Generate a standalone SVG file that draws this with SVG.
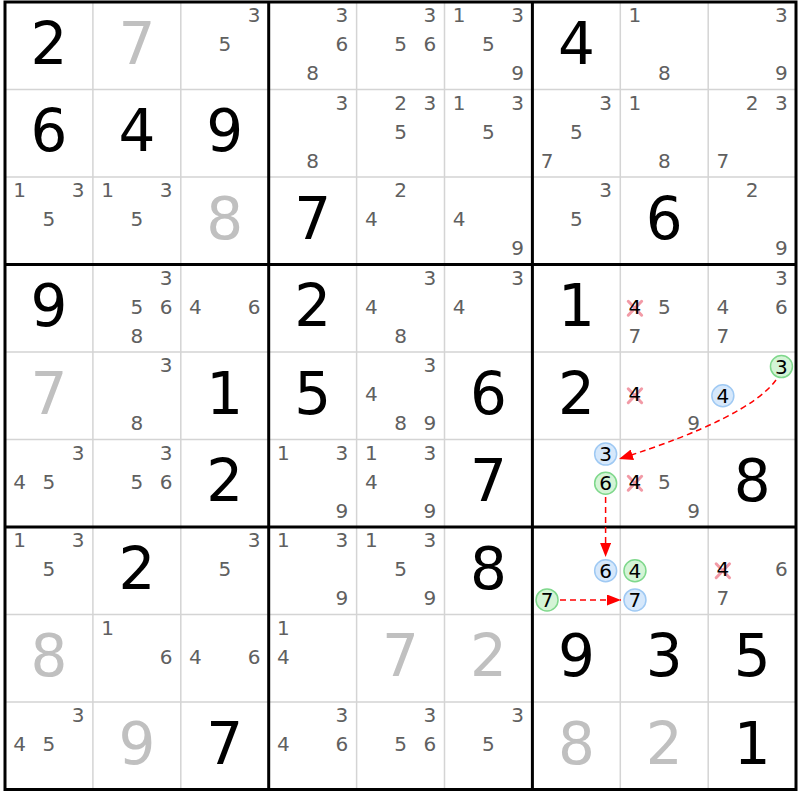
<svg xmlns="http://www.w3.org/2000/svg" width="800" height="800" viewBox="0 0 800 800">
<style>
text{font-family:"DejaVu Sans","Liberation Sans",sans-serif;text-anchor:middle}
.g{font-size:58px;fill:#000}
.s{font-size:58px;fill:#c0c0c0}
.c{font-size:20px;fill:#606060}
.k{font-size:20px;fill:#000}
.thin{stroke:#d4d4d4;stroke-width:1.5}
.thick{stroke:#000;stroke-width:3}
.cb{fill:#d6e8fb;stroke:#9fc9f3;stroke-width:1.5}
.cg{fill:#d4f4d6;stroke:#7fd88c;stroke-width:1.5}
.x{stroke:#f29aa6;stroke-width:3;stroke-linecap:round}
.arr{fill:none;stroke:#f00;stroke-width:1.5;stroke-dasharray:6 4;marker-end:url(#ah)}
</style>
<defs>
<marker id="ah" markerUnits="userSpaceOnUse" markerWidth="14" markerHeight="11" refX="14" refY="5.5" orient="auto">
<path d="M0,0 L14,5.5 L0,11 z" fill="#f00"/>
</marker>
</defs>
<rect width="800" height="800" fill="#fff"/>
<g id="grid">
<path class="thin" d="M92.9,2V789.5M180.8,2V789.5M356.6,2V789.5M444.5,2V789.5M620.3,2V789.5M708.2,2V789.5M5,89.5H796M5,177H796M5,352H796M5,439.5H796M5,614.5H796M5,702H796"/>
<path class="thick" fill="none" d="M268.7,2V789.5M532.4,2V789.5M5,264.5H796M5,527H796"/>
<rect class="thick" fill="none" x="5" y="2" width="791" height="787.5"/>
</g>
<!-- Row 0 -->
<g id="r0c0" transform="translate(48.95,45.75)"><text class="g" y="18">2</text></g>
<g id="r0c1" transform="translate(136.85,45.75)"><text class="s" y="18">7</text></g>
<g id="r0c2" transform="translate(224.75,45.75)"><text class="c" x="29.3" y="-23.7">3</text><text class="c" y="5.5">5</text></g>
<g id="r0c3" transform="translate(312.65,45.75)"><text class="c" x="29.3" y="-23.7">3</text><text class="c" x="29.3" y="5.5">6</text><text class="c" y="34.7">8</text></g>
<g id="r0c4" transform="translate(400.55,45.75)"><text class="c" x="29.3" y="-23.7">3</text><text class="c" y="5.5">5</text><text class="c" x="29.3" y="5.5">6</text></g>
<g id="r0c5" transform="translate(488.45,45.75)"><text class="c" x="-29.3" y="-23.7">1</text><text class="c" x="29.3" y="-23.7">3</text><text class="c" y="5.5">5</text><text class="c" x="29.3" y="34.7">9</text></g>
<g id="r0c6" transform="translate(576.35,45.75)"><text class="g" y="18">4</text></g>
<g id="r0c7" transform="translate(664.25,45.75)"><text class="c" x="-29.3" y="-23.7">1</text><text class="c" y="34.7">8</text></g>
<g id="r0c8" transform="translate(752.15,45.75)"><text class="c" x="29.3" y="-23.7">3</text><text class="c" x="29.3" y="34.7">9</text></g>
<!-- Row 1 -->
<g id="r1c0" transform="translate(48.95,133.25)"><text class="g" y="18">6</text></g>
<g id="r1c1" transform="translate(136.85,133.25)"><text class="g" y="18">4</text></g>
<g id="r1c2" transform="translate(224.75,133.25)"><text class="g" y="18">9</text></g>
<g id="r1c3" transform="translate(312.65,133.25)"><text class="c" x="29.3" y="-23.7">3</text><text class="c" y="34.7">8</text></g>
<g id="r1c4" transform="translate(400.55,133.25)"><text class="c" y="-23.7">2</text><text class="c" x="29.3" y="-23.7">3</text><text class="c" y="5.5">5</text></g>
<g id="r1c5" transform="translate(488.45,133.25)"><text class="c" x="-29.3" y="-23.7">1</text><text class="c" x="29.3" y="-23.7">3</text><text class="c" y="5.5">5</text></g>
<g id="r1c6" transform="translate(576.35,133.25)"><text class="c" x="29.3" y="-23.7">3</text><text class="c" y="5.5">5</text><text class="c" x="-29.3" y="34.7">7</text></g>
<g id="r1c7" transform="translate(664.25,133.25)"><text class="c" x="-29.3" y="-23.7">1</text><text class="c" y="34.7">8</text></g>
<g id="r1c8" transform="translate(752.15,133.25)"><text class="c" y="-23.7">2</text><text class="c" x="29.3" y="-23.7">3</text><text class="c" x="-29.3" y="34.7">7</text></g>
<!-- Row 2 -->
<g id="r2c0" transform="translate(48.95,220.75)"><text class="c" x="-29.3" y="-23.7">1</text><text class="c" x="29.3" y="-23.7">3</text><text class="c" y="5.5">5</text></g>
<g id="r2c1" transform="translate(136.85,220.75)"><text class="c" x="-29.3" y="-23.7">1</text><text class="c" x="29.3" y="-23.7">3</text><text class="c" y="5.5">5</text></g>
<g id="r2c2" transform="translate(224.75,220.75)"><text class="s" y="18">8</text></g>
<g id="r2c3" transform="translate(312.65,220.75)"><text class="g" y="18">7</text></g>
<g id="r2c4" transform="translate(400.55,220.75)"><text class="c" y="-23.7">2</text><text class="c" x="-29.3" y="5.5">4</text></g>
<g id="r2c5" transform="translate(488.45,220.75)"><text class="c" x="-29.3" y="5.5">4</text><text class="c" x="29.3" y="34.7">9</text></g>
<g id="r2c6" transform="translate(576.35,220.75)"><text class="c" x="29.3" y="-23.7">3</text><text class="c" y="5.5">5</text></g>
<g id="r2c7" transform="translate(664.25,220.75)"><text class="g" y="18">6</text></g>
<g id="r2c8" transform="translate(752.15,220.75)"><text class="c" y="-23.7">2</text><text class="c" x="29.3" y="34.7">9</text></g>
<!-- Row 3 -->
<g id="r3c0" transform="translate(48.95,308.25)"><text class="g" y="18">9</text></g>
<g id="r3c1" transform="translate(136.85,308.25)"><text class="c" x="29.3" y="-23.7">3</text><text class="c" y="5.5">5</text><text class="c" x="29.3" y="5.5">6</text><text class="c" y="34.7">8</text></g>
<g id="r3c2" transform="translate(224.75,308.25)"><text class="c" x="-29.3" y="5.5">4</text><text class="c" x="29.3" y="5.5">6</text></g>
<g id="r3c3" transform="translate(312.65,308.25)"><text class="g" y="18">2</text></g>
<g id="r3c4" transform="translate(400.55,308.25)"><text class="c" x="29.3" y="-23.7">3</text><text class="c" x="-29.3" y="5.5">4</text><text class="c" y="34.7">8</text></g>
<g id="r3c5" transform="translate(488.45,308.25)"><text class="c" x="29.3" y="-23.7">3</text><text class="c" x="-29.3" y="5.5">4</text></g>
<g id="r3c6" transform="translate(576.35,308.25)"><text class="g" y="18">1</text></g>
<g id="r3c7" transform="translate(664.25,308.25)"><path class="x" d="M-36,-7L-22.6,7M-36,7L-22.6,-7"/><text class="k" x="-29.3" y="5.5">4</text><text class="c" y="5.5">5</text><text class="c" x="-29.3" y="34.7">7</text></g>
<g id="r3c8" transform="translate(752.15,308.25)"><text class="c" x="29.3" y="-23.7">3</text><text class="c" x="-29.3" y="5.5">4</text><text class="c" x="29.3" y="5.5">6</text><text class="c" x="-29.3" y="34.7">7</text></g>
<!-- Row 4 -->
<g id="r4c0" transform="translate(48.95,395.75)"><text class="s" y="18">7</text></g>
<g id="r4c1" transform="translate(136.85,395.75)"><text class="c" x="29.3" y="-23.7">3</text><text class="c" y="34.7">8</text></g>
<g id="r4c2" transform="translate(224.75,395.75)"><text class="g" y="18">1</text></g>
<g id="r4c3" transform="translate(312.65,395.75)"><text class="g" y="18">5</text></g>
<g id="r4c4" transform="translate(400.55,395.75)"><text class="c" x="29.3" y="-23.7">3</text><text class="c" x="-29.3" y="5.5">4</text><text class="c" y="34.7">8</text><text class="c" x="29.3" y="34.7">9</text></g>
<g id="r4c5" transform="translate(488.45,395.75)"><text class="g" y="18">6</text></g>
<g id="r4c6" transform="translate(576.35,395.75)"><text class="g" y="18">2</text></g>
<g id="r4c7" transform="translate(664.25,395.75)"><path class="x" d="M-36,-7L-22.6,7M-36,7L-22.6,-7"/><text class="k" x="-29.3" y="5.5">4</text><text class="c" x="29.3" y="34.7">9</text></g>
<g id="r4c8" transform="translate(752.15,395.75)"><circle class="cg" cx="29.3" cy="-29.17" r="11"/><text class="k" x="29.3" y="-22">3</text><circle class="cb" cx="-29.3" cy="0" r="11"/><text class="k" x="-29.3" y="7.2">4</text></g>
<!-- Row 5 -->
<g id="r5c0" transform="translate(48.95,483.25)"><text class="c" x="29.3" y="-23.7">3</text><text class="c" x="-29.3" y="5.5">4</text><text class="c" y="5.5">5</text></g>
<g id="r5c1" transform="translate(136.85,483.25)"><text class="c" x="29.3" y="-23.7">3</text><text class="c" y="5.5">5</text><text class="c" x="29.3" y="5.5">6</text></g>
<g id="r5c2" transform="translate(224.75,483.25)"><text class="g" y="18">2</text></g>
<g id="r5c3" transform="translate(312.65,483.25)"><text class="c" x="-29.3" y="-23.7">1</text><text class="c" x="29.3" y="-23.7">3</text><text class="c" x="29.3" y="34.7">9</text></g>
<g id="r5c4" transform="translate(400.55,483.25)"><text class="c" x="-29.3" y="-23.7">1</text><text class="c" x="29.3" y="-23.7">3</text><text class="c" x="-29.3" y="5.5">4</text><text class="c" x="29.3" y="34.7">9</text></g>
<g id="r5c5" transform="translate(488.45,483.25)"><text class="g" y="18">7</text></g>
<g id="r5c6" transform="translate(576.35,483.25)"><circle class="cb" cx="29.3" cy="-29.17" r="11"/><text class="k" x="29.3" y="-22">3</text><circle class="cg" cx="29.3" cy="0" r="11"/><text class="k" x="29.3" y="7.2">6</text></g>
<g id="r5c7" transform="translate(664.25,483.25)"><path class="x" d="M-36,-7L-22.6,7M-36,7L-22.6,-7"/><text class="k" x="-29.3" y="5.5">4</text><text class="c" y="5.5">5</text><text class="c" x="29.3" y="34.7">9</text></g>
<g id="r5c8" transform="translate(752.15,483.25)"><text class="g" y="18">8</text></g>
<!-- Row 6 -->
<g id="r6c0" transform="translate(48.95,570.75)"><text class="c" x="-29.3" y="-23.7">1</text><text class="c" x="29.3" y="-23.7">3</text><text class="c" y="5.5">5</text></g>
<g id="r6c1" transform="translate(136.85,570.75)"><text class="g" y="18">2</text></g>
<g id="r6c2" transform="translate(224.75,570.75)"><text class="c" x="29.3" y="-23.7">3</text><text class="c" y="5.5">5</text></g>
<g id="r6c3" transform="translate(312.65,570.75)"><text class="c" x="-29.3" y="-23.7">1</text><text class="c" x="29.3" y="-23.7">3</text><text class="c" x="29.3" y="34.7">9</text></g>
<g id="r6c4" transform="translate(400.55,570.75)"><text class="c" x="-29.3" y="-23.7">1</text><text class="c" x="29.3" y="-23.7">3</text><text class="c" y="5.5">5</text><text class="c" x="29.3" y="34.7">9</text></g>
<g id="r6c5" transform="translate(488.45,570.75)"><text class="g" y="18">8</text></g>
<g id="r6c6" transform="translate(576.35,570.75)"><circle class="cb" cx="29.3" cy="0" r="11"/><text class="k" x="29.3" y="7.2">6</text><circle class="cg" cx="-29.3" cy="29.17" r="11"/><text class="k" x="-29.3" y="36.4">7</text></g>
<g id="r6c7" transform="translate(664.25,570.75)"><circle class="cg" cx="-29.3" cy="0" r="11"/><text class="k" x="-29.3" y="7.2">4</text><circle class="cb" cx="-29.3" cy="29.17" r="11"/><text class="k" x="-29.3" y="36.4">7</text></g>
<g id="r6c8" transform="translate(752.15,570.75)"><path class="x" d="M-36,-7L-22.6,7M-36,7L-22.6,-7"/><text class="k" x="-29.3" y="5.5">4</text><text class="c" x="29.3" y="5.5">6</text><text class="c" x="-29.3" y="34.7">7</text></g>
<!-- Row 7 -->
<g id="r7c0" transform="translate(48.95,658.25)"><text class="s" y="18">8</text></g>
<g id="r7c1" transform="translate(136.85,658.25)"><text class="c" x="-29.3" y="-23.7">1</text><text class="c" x="29.3" y="5.5">6</text></g>
<g id="r7c2" transform="translate(224.75,658.25)"><text class="c" x="-29.3" y="5.5">4</text><text class="c" x="29.3" y="5.5">6</text></g>
<g id="r7c3" transform="translate(312.65,658.25)"><text class="c" x="-29.3" y="-23.7">1</text><text class="c" x="-29.3" y="5.5">4</text></g>
<g id="r7c4" transform="translate(400.55,658.25)"><text class="s" y="18">7</text></g>
<g id="r7c5" transform="translate(488.45,658.25)"><text class="s" y="18">2</text></g>
<g id="r7c6" transform="translate(576.35,658.25)"><text class="g" y="18">9</text></g>
<g id="r7c7" transform="translate(664.25,658.25)"><text class="g" y="18">3</text></g>
<g id="r7c8" transform="translate(752.15,658.25)"><text class="g" y="18">5</text></g>
<!-- Row 8 -->
<g id="r8c0" transform="translate(48.95,745.75)"><text class="c" x="29.3" y="-23.7">3</text><text class="c" x="-29.3" y="5.5">4</text><text class="c" y="5.5">5</text></g>
<g id="r8c1" transform="translate(136.85,745.75)"><text class="s" y="18">9</text></g>
<g id="r8c2" transform="translate(224.75,745.75)"><text class="g" y="18">7</text></g>
<g id="r8c3" transform="translate(312.65,745.75)"><text class="c" x="29.3" y="-23.7">3</text><text class="c" x="-29.3" y="5.5">4</text><text class="c" x="29.3" y="5.5">6</text></g>
<g id="r8c4" transform="translate(400.55,745.75)"><text class="c" x="29.3" y="-23.7">3</text><text class="c" y="5.5">5</text><text class="c" x="29.3" y="5.5">6</text></g>
<g id="r8c5" transform="translate(488.45,745.75)"><text class="c" x="29.3" y="-23.7">3</text><text class="c" y="5.5">5</text></g>
<g id="r8c6" transform="translate(576.35,745.75)"><text class="s" y="18">8</text></g>
<g id="r8c7" transform="translate(664.25,745.75)"><text class="s" y="18">2</text></g>
<g id="r8c8" transform="translate(752.15,745.75)"><text class="g" y="18">1</text></g>
<g id="connectors">
<path class="arr" d="M776,380 Q748,418 619,459"/>
<path class="arr" d="M605.6,497 L605.6,557"/>
<path class="arr" d="M560,600 L621,600"/>
</g>
</svg>
